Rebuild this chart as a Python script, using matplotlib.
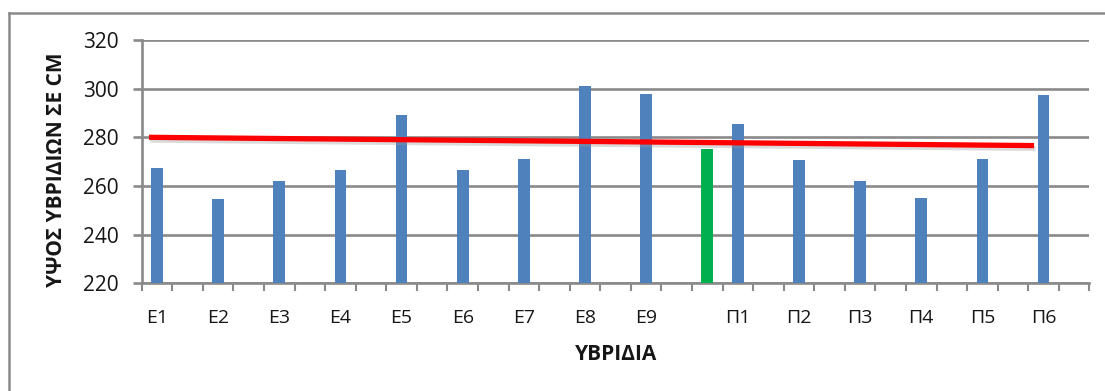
import numpy as np
import matplotlib
matplotlib.use("Agg")
import matplotlib.pyplot as plt
from matplotlib.lines import Line2D
import matplotlib.patheffects as pe

plt.rcParams['font.family'] = ['Open Sans', 'DejaVu Sans']

# Category slots along the x axis (blank names are empty slots)
categories = ["Ε1", "", "Ε2", "", "Ε3", "", "Ε4", "", "Ε5", "", "Ε6", "", "Ε7", "",
              "Ε8", "", "Ε9", "", "", "Π1", "", "Π2", "", "Π3", "", "Π4", "",
              "Π5", "", "Π6", ""]
# Plant height (cm) of each hybrid; NaN where the slot is empty
heights = [267.5, np.nan, 254.5, np.nan, 262.0, np.nan, 266.6, np.nan, 289.0, np.nan,
           266.6, np.nan, 271.0, np.nan, 301.0, np.nan, 298.0, np.nan, np.nan, 285.5,
           np.nan, 270.6, np.nan, 262.0, np.nan, 255.0, np.nan, 271.0, np.nan, 297.4,
           np.nan]
# Control hybrid (green bar), placed in the slot just before Π1
control_slot = 18
control_height = 275.1
# Linear trend: values at its first and last point
trend_values = [280.0, 276.6]

yticks = [220, 240, 260, 280, 300, 320]

W, H = 1105, 391
fig = plt.figure(figsize=(W / 100, H / 100), dpi=100)
ax = fig.add_axes([141.7 / W, 1 - 283.3 / H, (1089.4 - 141.7) / W, (283.3 - 40) / H])

grey = "#8a8a8a"
text_col = "#161616"
x = np.arange(len(categories))
ax.bar(x, heights, width=0.38, color="#4f81bd", zorder=3)
ax.bar([control_slot], [control_height], width=0.38, color="#00b050", zorder=3)

ax.plot([-0.26, 28.69], trend_values, color="#ff0000", lw=3.8, solid_capstyle="butt",
        zorder=4,
        path_effects=[pe.SimpleLineShadow(offset=(1, -2), shadow_color="#999999", alpha=0.35),
                      pe.Normal()])

ax.set_xlim(-0.5, len(categories) - 0.5)
ax.set_ylim(220, 320)
ax.set_yticks(yticks)
ax.yaxis.grid(True, color=grey, lw=1.9, zorder=0)
ax.set_axisbelow(True)

ax.set_xticks(x)
ax.set_xticklabels(categories)
ax.set_xticks(np.arange(-0.5, len(categories)), minor=True)
ax.tick_params(axis="x", which="major", length=0, pad=18.5, labelsize=14, colors=text_col)
ax.tick_params(axis="x", which="minor", length=5.5, width=1.5, color=grey, direction="out")
ax.tick_params(axis="y", length=6.5, width=1.9, color=grey, pad=10, labelsize=15,
               labelcolor=text_col)

for s in ["top", "right"]:
    ax.spines[s].set_visible(False)
for s in ["left", "bottom"]:
    ax.spines[s].set_color(grey)
    ax.spines[s].set_linewidth(1.9)

fig.text(57 / W, 1 - 170 / H, "ΥΨΟΣ ΥΒΡΙΔΙΩΝ ΣΕ CM", rotation=90, ha="center", va="center",
         fontsize=15, fontweight="bold", color=text_col)
fig.text(616 / W, 1 - 354.5 / H, "ΥΒΡΙΔΙΑ", ha="center", va="center",
         fontsize=15, fontweight="bold", color=text_col)

# Chart area frame
fig.add_artist(Line2D([9 / W, 9 / W], [0, 1 - 12.7 / H], transform=fig.transFigure,
                      color=grey, lw=1.8))
fig.add_artist(Line2D([9 / W, 1], [1 - 12.7 / H, 1 - 12.7 / H], transform=fig.transFigure,
                      color=grey, lw=1.8))

fig.savefig("out.png", dpi=100, facecolor="white")
